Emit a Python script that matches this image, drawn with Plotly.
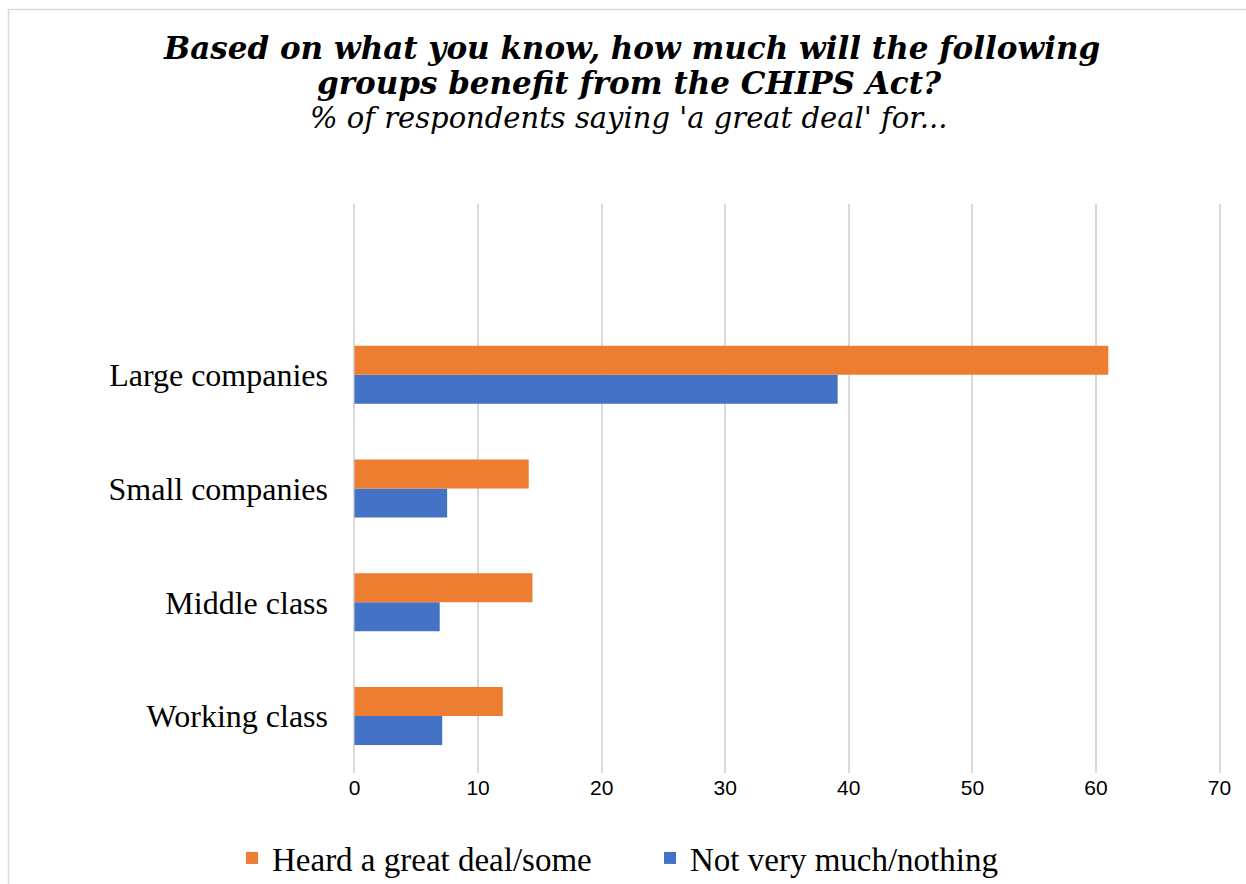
import plotly.graph_objects as go

# Survey groups and share answering "a great deal"
groups = ["Large companies", "Small companies", "Middle class", "Working class"]
heard_great_deal_some = [61.0, 14.1, 14.4, 12.0]
not_very_much_nothing = [39.1, 7.5, 6.9, 7.1]
x_ticks = [0, 10, 20, 30, 40, 50, 60, 70]

ORANGE = "#ED7D31"
BLUE = "#4472C4"
GRID = "#D9D9D9"

W, H = 1246, 884
ML, MR, MT, MB = 352, 24, 204, 111
PW, PH = W - ML - MR, H - MT - MB


def px_x(x):
    return (x - ML) / PW


def px_y(y):
    return (H - MB - y) / PH


fig = go.Figure()

# blue first so that it sits below the orange bar in each group
fig.add_trace(go.Bar(
    y=groups, x=not_very_much_nothing, orientation="h",
    name="Not very much/nothing", marker=dict(color=BLUE, line=dict(width=0)),
))
fig.add_trace(go.Bar(
    y=groups, x=heard_great_deal_some, orientation="h",
    name="Heard a great deal/some", marker=dict(color=ORANGE, line=dict(width=0)),
))

title_font = dict(family="DejaVu Serif", size=31, color="#000000",
                  weight="bold", style="italic")
fig.add_annotation(
    text="Based on what you know, how much will the following",
    xref="paper", yref="paper", x=px_x(631), y=px_y(48),
    xanchor="center", yanchor="middle", showarrow=False, font=title_font,
)
fig.add_annotation(
    text="groups benefit from the CHIPS Act?",
    xref="paper", yref="paper", x=px_x(629), y=px_y(83),
    xanchor="center", yanchor="middle", showarrow=False, font=title_font,
)
fig.add_annotation(
    text="% of respondents saying 'a great deal' for...",
    xref="paper", yref="paper", x=px_x(628), y=px_y(118),
    xanchor="center", yanchor="middle", showarrow=False,
    font=dict(family="DejaVu Serif", size=29, color="#000000", style="italic"),
)

# thin frame around the chart area
fig.add_shape(
    type="rect", xref="paper", yref="paper",
    x0=px_x(8.5), x1=px_x(1270), y0=px_y(900), y1=px_y(9.5),
    line=dict(color=GRID, width=1.5), fillcolor="rgba(0,0,0,0)", layer="below",
)

fig.update_layout(
    width=W, height=H,
    margin=dict(l=ML, r=MR, t=MT, b=MB, autoexpand=False),
    paper_bgcolor="white", plot_bgcolor="white",
    barmode="group", bargap=0.49, bargroupgap=0,
    showlegend=True,
    legend=dict(
        orientation="h", traceorder="reversed",
        x=px_x(232), xanchor="left", y=px_y(858), yanchor="middle",
        entrywidth=373, entrywidthmode="pixels",
        font=dict(family="Liberation Serif", size=33, color="#000000"),
        bgcolor="rgba(0,0,0,0)",
    ),
    xaxis=dict(
        range=[-0.2, 70.2], tickvals=x_ticks, showgrid=True, gridcolor=GRID, gridwidth=1.5,
        zeroline=True, zerolinecolor=GRID, zerolinewidth=1.5, showline=False, ticks="",
        tickfont=dict(family="Liberation Sans", size=21, color="#000000"),
        fixedrange=True,
    ),
    yaxis=dict(
        type="category", categoryorder="array", categoryarray=groups[::-1],
        range=[-0.5, 4.5], showgrid=False, zeroline=False, showline=False, ticks="",
        ticklabelstandoff=23,
        tickfont=dict(family="Liberation Serif", size=32, color="#000000"),
        fixedrange=True,
    ),
)

fig.write_html("out.html")
